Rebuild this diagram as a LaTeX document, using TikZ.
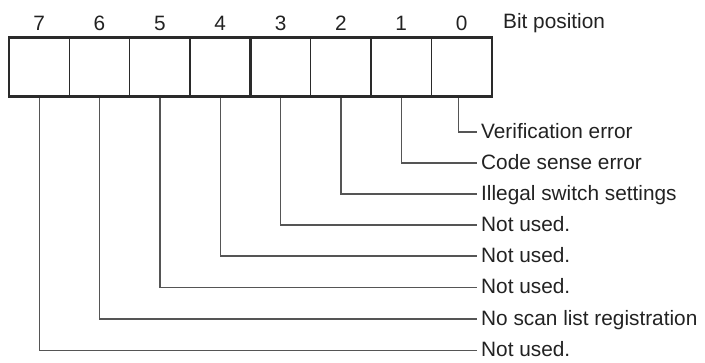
\documentclass[tikz,border=0pt]{standalone}
\usepackage{fontspec}
\setmainfont{Liberation Sans}
\begin{document}
\begin{tikzpicture}[x=1pt,y=-1pt,
  cellbox/.style={draw=boxc,line width=1.3pt,rectangle,minimum width=60.35pt,minimum height=59pt,inner sep=0pt,outer sep=0pt},
  bitnum/.style={anchor=base,inner sep=0pt,text=txtc,font=\fontsize{20.8}{24}\selectfont},
  desc/.style={anchor=west,inner sep=0pt,text height=12pt,text depth=0pt,text=txtc,font=\fontsize{20.8}{24}\selectfont},
  leader/.style={draw=leadc,line width=1.3pt}]
\definecolor{boxc}{HTML}{2A2A2A}
\definecolor{leadc}{HTML}{555555}
\definecolor{txtc}{HTML}{222222}
\useasboundingbox (0,0) rectangle (705,362);
% cells
\foreach \i in {0,...,7}{
  \node[cellbox] (c\i) at ({9+60.35*(7-\i+0.5)},67.2) {};
  \node[bitnum] (n\i) at ({9+60.35*(7-\i+0.5)},30) {\i};
}
\draw[draw=boxc,line width=2.6pt] (c7.north west) rectangle (c0.south east);
\draw[draw=boxc,line width=2.6pt] (c4.north east) -- (c4.south east);
\node[anchor=base west,inner sep=0pt,text=txtc,font=\fontsize{20.8}{24}\selectfont] (bp) at (503,28.5) {Bit position};
% labels
\node[desc] (l0) at (481,132) {Verification error};
\node[desc] (l1) at (481,163) {Code sense error};
\node[desc] (l2) at (481,194) {Illegal switch settings};
\node[desc] (l3) at (481,225) {Not used.};
\node[desc] (l4) at (481,256) {Not used.};
\node[desc] (l5) at (481,287.5) {Not used.};
\node[desc] (l6) at (481,319) {No scan list registration};
\node[desc] (l7) at (481,350.5) {Not used.};
% leaders
\draw[leader] ([xshift=-3pt,yshift=-1.3pt]c0.south) |- ([xshift=-4pt]l0.west);
\foreach \i in {1,...,7}{
  \draw[leader] ([yshift=-1.3pt]c\i.south) |- ([xshift=-4pt]l\i.west);
}
\end{tikzpicture}
\end{document}
